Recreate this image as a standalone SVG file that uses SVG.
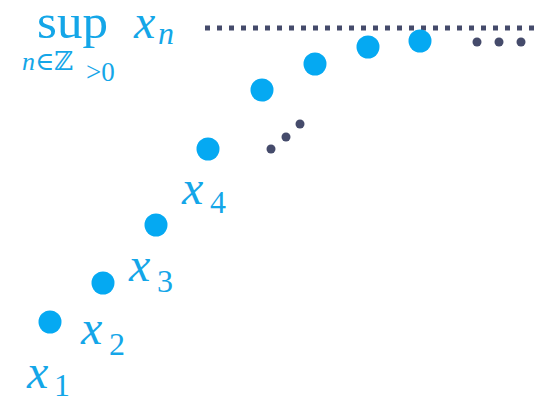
<svg xmlns="http://www.w3.org/2000/svg" width="540" height="398" viewBox="0 0 540 398">
<style>
.t{font-family:"Liberation Serif","DejaVu Serif",serif;fill:#14A6E8}
.i{font-style:italic}
.b{fill:#05A9F2}
.d{fill:#454B6B}
</style>
<rect width="540" height="398" fill="#fff"/>
<g id="label-sup">
<text class="t" x="37" y="38" font-size="48" textLength="71" lengthAdjust="spacingAndGlyphs">sup</text>
<text class="t i" x="134" y="38" font-size="48">x</text>
<text class="t i" x="158" y="44" font-size="32">n</text>
<text class="t" x="22" y="70" font-size="26"><tspan class="i">n</tspan>∈ℤ</text>
<text class="t" x="86" y="81" font-size="27">&gt;0</text>
</g>
<g id="connectors">
<line x1="205" y1="28" x2="535" y2="28" stroke="#454B6B" stroke-width="5" stroke-dasharray="5 7"/>
</g>
<g id="points">
<circle class="b" cx="50" cy="322" r="11.5"/>
<circle class="b" cx="103" cy="283" r="11.5"/>
<circle class="b" cx="156" cy="225" r="11.5"/>
<circle class="b" cx="208" cy="149" r="11.5"/>
<circle class="b" cx="262" cy="90" r="11.5"/>
<circle class="b" cx="315" cy="64" r="11.5"/>
<circle class="b" cx="368" cy="47" r="11.5"/>
<circle class="b" cx="420" cy="41" r="11.5"/>
</g>
<g id="ellipsis-mid">
<circle class="d" cx="271" cy="149" r="4.5"/>
<circle class="d" cx="286" cy="137" r="4.5"/>
<circle class="d" cx="300" cy="124" r="4.5"/>
</g>
<g id="ellipsis-right">
<circle class="d" cx="477" cy="42" r="4.5"/>
<circle class="d" cx="499" cy="42" r="4.5"/>
<circle class="d" cx="521" cy="42" r="4.5"/>
</g>
<g id="labels">
<text class="t i" x="27" y="388" font-size="48">x</text>
<text class="t" x="54" y="396" font-size="32">1</text>
<text class="t i" x="81" y="344" font-size="48">x</text>
<text class="t" x="109" y="355" font-size="32">2</text>
<text class="t i" x="129" y="281" font-size="48">x</text>
<text class="t" x="157" y="292" font-size="32">3</text>
<text class="t i" x="182" y="204" font-size="48">x</text>
<text class="t" x="210" y="213" font-size="32">4</text>
</g>
</svg>
